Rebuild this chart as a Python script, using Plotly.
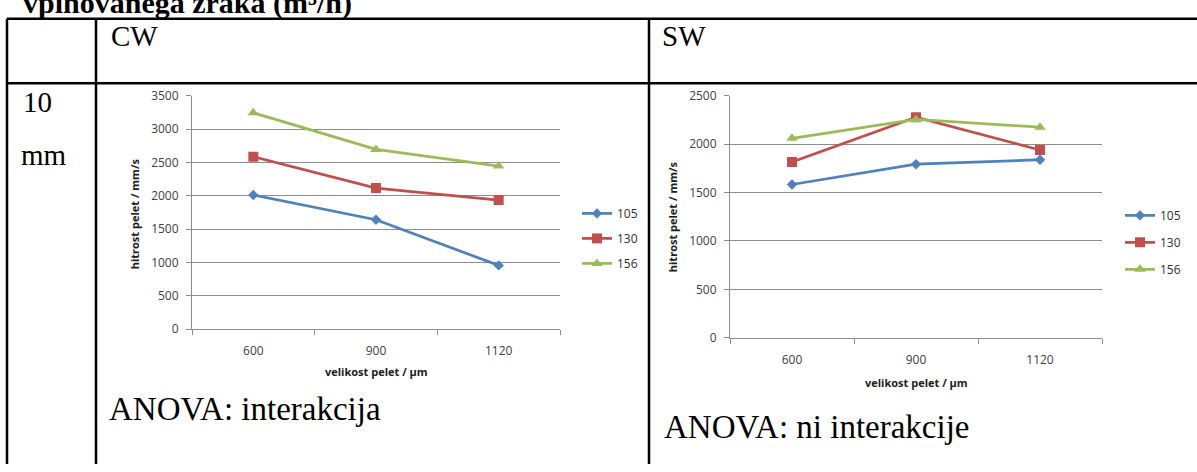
import plotly.graph_objects as go

W, H = 1197, 472

categories = ["600", "900", "1120"]
series_names = ["105", "130", "156"]
cw_105 = [2010, 1640, 955]
cw_130 = [2585, 2115, 1935]
cw_156 = [3245, 2695, 2445]
sw_105 = [1583, 1793, 1839]
sw_130 = [1815, 2279, 1940]
sw_156 = [2060, 2256, 2175]
cw_ticks = [0, 500, 1000, 1500, 2000, 2500, 3000, 3500]
sw_ticks = [0, 500, 1000, 1500, 2000, 2500]

colors = ["#4F81BD", "#C0504D", "#9BBB59"]
symbols = ["diamond", "square", "triangle-up"]
msizes = [8, 10, 10]

def px(x):
    return x / W

def py(y):
    return 1 - y / H

fig = go.Figure()

chart_font = "Open Sans"
tick_font = dict(family=chart_font, size=12, color="#404040")

for i, (name, vals) in enumerate(zip(series_names, [cw_105, cw_130, cw_156])):
    fig.add_trace(go.Scatter(
        x=categories, y=vals, name=name, mode="lines+markers",
        line=dict(color=colors[i], width=2.75),
        marker=dict(symbol=symbols[i], size=msizes[i], color=colors[i]),
        xaxis="x", yaxis="y", legend="legend", legendgroup="a" + name,
    ))
for i, (name, vals) in enumerate(zip(series_names, [sw_105, sw_130, sw_156])):
    fig.add_trace(go.Scatter(
        x=categories, y=vals, name=name, mode="lines+markers",
        line=dict(color=colors[i], width=2.75),
        marker=dict(symbol=symbols[i], size=msizes[i], color=colors[i]),
        xaxis="x2", yaxis="y2", legend="legend2", legendgroup="b" + name,
    ))

grid = "#8c8c8c"
common_x = dict(type="category", showgrid=False, showline=True, linecolor=grid, linewidth=1,
                ticks="outside", tickson="boundaries", ticklen=5, tickcolor=grid,
                tickfont=tick_font, range=[-0.5, 2.5], ticklabelstandoff=11, zeroline=False,
                fixedrange=True)
common_y = dict(showgrid=True, gridcolor=grid, gridwidth=1, showline=True, linecolor=grid,
                linewidth=1, ticks="outside", ticklen=5, tickcolor=grid, tickfont=tick_font,
                zeroline=False, ticklabelstandoff=5, fixedrange=True)

fig.update_layout(
    width=W, height=H,
    margin=dict(l=0, r=0, t=0, b=0),
    paper_bgcolor="white", plot_bgcolor="white",
    xaxis=dict(common_x, domain=[px(192), px(560)], anchor="y"),
    yaxis=dict(common_y, domain=[py(332), py(90)], range=[0, 3500], tickvals=cw_ticks, anchor="x"),
    xaxis2=dict(common_x, domain=[px(730), px(1102)], anchor="y2"),
    yaxis2=dict(common_y, domain=[py(341), py(90)], range=[0, 2500], tickvals=sw_ticks, anchor="x2"),
    legend=dict(x=px(577), y=py(197), xanchor="left", yanchor="top", bgcolor="rgba(0,0,0,0)",
                font=dict(family=chart_font, size=12, color="#303030"),
                itemwidth=30, tracegroupgap=6),
    legend2=dict(x=px(1120), y=py(199), xanchor="left", yanchor="top", bgcolor="rgba(0,0,0,0)",
                 font=dict(family=chart_font, size=12, color="#303030"),
                 itemwidth=30, tracegroupgap=8),
    showlegend=True,
)

# table lines
lw = 2.5
lines = [
    (7, 10, W, 10),
    (7, 77, W, 77),
    (7, 10, 7, H),
    (96, 10, 96, H),
    (649, 10, 649, H),
]
for x0, y0, x1, y1 in lines:
    fig.add_shape(type="line", xref="paper", yref="paper",
                  x0=px(x0), y0=py(y0), x1=px(x1), y1=py(y1),
                  line=dict(color="black", width=lw))

serif = "Liberation Serif"
def ann(text, x, y, size, xanchor="left", yanchor="bottom", bold=False, family=serif, color="black", angle=0):
    fig.add_annotation(text=("<b>%s</b>" % text) if bold else text, xref="paper", yref="paper",
                       x=px(x), y=py(y), xanchor=xanchor, yanchor=yanchor, showarrow=False,
                       font=dict(family=family, size=size, color=color), textangle=angle,
                       borderpad=0)

ann("vpihovanega zraka (m³/h)", 22, 12, 30, bold=True, yanchor="bottom")
ann("CW", 110, 46, 29)
ann("SW", 661, 46, 29)
ann("10", 22, 114, 29)
ann("mm", 20, 169, 29)
ann("ANOVA: interakcija", 108, 435, 33)
ann("ANOVA: ni interakcije", 663, 453, 33)

# axis titles
ann("velikost pelet / µm", 376, 376, 11, xanchor="center", yanchor="middle", bold=True,
    family=chart_font, color="#202020")
ann("velikost pelet / µm", 916, 387, 11, xanchor="center", yanchor="middle", bold=True,
    family=chart_font, color="#202020")
ann("hitrost pelet / mm/s", 134, 213, 11, xanchor="center", yanchor="middle", bold=True,
    family=chart_font, color="#202020", angle=-90)
ann("hitrost pelet / mm/s", 672, 216, 11, xanchor="center", yanchor="middle", bold=True,
    family=chart_font, color="#202020", angle=-90)

fig.write_html("out.html")
